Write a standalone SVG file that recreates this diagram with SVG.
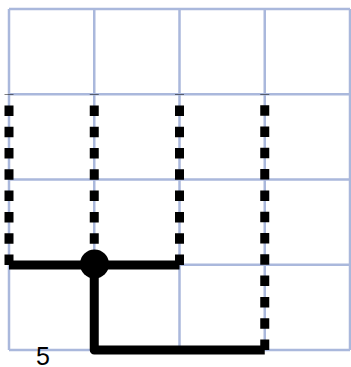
<svg xmlns="http://www.w3.org/2000/svg" width="351" height="367" viewBox="0 0 351 367">
<style>
.grid{stroke:#aab8dc;stroke-width:2.5;fill:none}
.dash{stroke:#000;stroke-width:9;fill:none;stroke-dasharray:10.5 10.8}
.solid{stroke:#000;stroke-width:9;fill:none;stroke-linejoin:round;stroke-linecap:butt}
.lbl{font-family:"Liberation Sans",Arial,sans-serif;font-size:25px;fill:#000}
</style>
<rect width="351" height="367" fill="#fff"/>
<g id="grid" class="grid">
<path d="M9 9V350M94.25 9V350M179.5 9V350M264.75 9V350M350 9V350"/>
<path d="M9 9H350M9 94.25H350M9 179.5H350M9 264.75H350M9 350H350"/>
</g>
<g id="connectors">
<path class="dash" d="M9 265V94"/>
<path class="dash" d="M94.25 265V94"/>
<path class="dash" d="M179.5 265V94"/>
<path class="dash" d="M264.75 350V94"/>
<path class="solid" d="M9 265H179.5"/>
<path class="solid" d="M94.25 265V350H264.75"/>
</g>
<g id="node"><circle cx="94.5" cy="264" r="14.5" fill="#000"/></g>
<text class="lbl" x="43" y="365" text-anchor="middle">5</text>
</svg>
